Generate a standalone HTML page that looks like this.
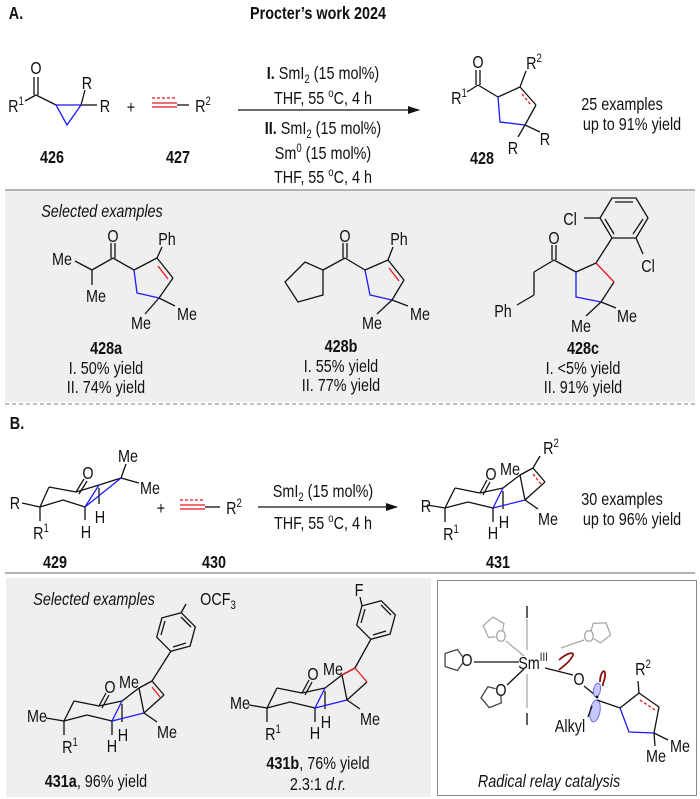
<!DOCTYPE html>
<html><head><meta charset="utf-8"><style>
html,body{margin:0;padding:0;background:#fff}
svg{display:block}
text{font-family:"Liberation Sans",Arial,sans-serif;font-size:18px;fill:#111;text-anchor:middle;transform-box:fill-box;transform-origin:50% 50%;transform:scaleX(.8)}
.b{font-weight:bold}
.i{font-style:italic}
.s{font-size:12px}
line,polyline,polygon,path{stroke-width:1.3;fill:none}
.k{stroke:#111}.bl{stroke:#1a1aff}.r{stroke:#e8141b}.g{stroke:#aaa}
.d{stroke-dasharray:3 2}
</style></head><body>
<svg width="700" height="799" viewBox="0 0 700 799" xmlns="http://www.w3.org/2000/svg">
<defs>
<marker id="ah" markerWidth="12" markerHeight="8" refX="11" refY="4" orient="auto" markerUnits="userSpaceOnUse"><path d="M0,0 L12,4 L0,8 z" style="fill:#111;stroke:none"/></marker>
</defs>
<rect x="5" y="191" width="690" height="211" fill="#efefef"/>
<line x1="5" y1="190" x2="695" y2="190" stroke="#888" stroke-width="2"/>
<line x1="5" y1="404" x2="695" y2="404" stroke="#999" stroke-width="1" stroke-dasharray="4 3"/>
<line x1="5" y1="573" x2="695" y2="573" stroke="#888" stroke-width="2"/>
<rect x="6" y="578" width="425" height="219" fill="#efefef"/>
<rect x="437.5" y="580.5" width="259" height="215" fill="#fff" stroke="#888" stroke-width="1"/>

<text x="16" y="19" class="b">A.</text>
<text x="318" y="19" class="b">Procter’s work 2024</text>
<text x="17" y="429" class="b">B.</text>

<!-- 426 -->
<g class="k">
<line x1="34" y1="95" x2="34" y2="77"/><line x1="38" y1="95" x2="38" y2="77"/>
<line x1="36" y1="95" x2="25" y2="101"/><line x1="36" y1="95" x2="56" y2="105"/>
<line x1="81" y1="105" x2="85" y2="90"/><line x1="81" y1="105" x2="97" y2="105"/>
</g>
<polygon points="56,105 81,105 67,125" class="bl"/>
<text x="36" y="74">O</text>
<text x="16" y="112">R<tspan class="s" dy="-7">1</tspan></text>
<text x="87" y="89">R</text>
<text x="105" y="112">R</text>
<text x="52" y="163" class="b">426</text>
<text x="131" y="113">+</text>
<line x1="152" y1="98" x2="177" y2="98" class="r d"/>
<line x1="152" y1="103" x2="177" y2="103" class="r"/>
<line x1="152" y1="107" x2="177" y2="107" class="r"/>
<line x1="177" y1="105" x2="189" y2="105" class="k"/>
<text x="203" y="112">R<tspan class="s" dy="-7">2</tspan></text>
<text x="178" y="163" class="b">427</text>
<line x1="238" y1="110" x2="419" y2="110" class="k" marker-end="url(#ah)"/>
<text x="323" y="79"><tspan class="b">I.</tspan> SmI<tspan class="s" dy="4">2</tspan><tspan dy="-4"> (15 mol%)</tspan></text>
<text x="323" y="104">THF, 55 <tspan class="s" dy="-7">o</tspan><tspan dy="7">C, 4 h</tspan></text>
<text x="323" y="134"><tspan class="b">II.</tspan> SmI<tspan class="s" dy="4">2</tspan><tspan dy="-4"> (15 mol%)</tspan></text>
<text x="323" y="159">Sm<tspan class="s" dy="-7">0</tspan><tspan dy="7"> (15 mol%)</tspan></text>
<text x="323" y="183">THF, 55 <tspan class="s" dy="-7">o</tspan><tspan dy="7">C, 4 h</tspan></text>
<!-- 428 -->
<g class="k">
<line x1="476" y1="85" x2="476" y2="70"/><line x1="480" y1="85" x2="480" y2="70"/>
<line x1="478" y1="85" x2="467" y2="92"/><line x1="478" y1="85" x2="498" y2="97"/>
<line x1="498" y1="97" x2="520" y2="87"/><line x1="520" y1="87" x2="536" y2="105"/>
<line x1="536" y1="105" x2="525" y2="125"/><line x1="520" y1="87" x2="526" y2="71"/>
<line x1="525" y1="125" x2="540" y2="132"/><line x1="525" y1="125" x2="518" y2="137"/>
</g>
<line x1="522" y1="94" x2="531" y2="105" class="r d"/>
<polyline points="525,125 500,122 498,97" class="bl"/>
<text x="478" y="68">O</text>
<text x="459" y="104">R<tspan class="s" dy="-7">1</tspan></text>
<text x="534" y="69">R<tspan class="s" dy="-7">2</tspan></text>
<text x="545" y="145">R</text>
<text x="513" y="154">R</text>
<text x="482" y="164" class="b">428</text>
<text x="622" y="110">25 examples</text>
<text x="632" y="130">up to 91% yield</text>

<text x="102" y="217" class="i">Selected examples</text>
<!-- 428a -->
<g class="k">
<line x1="111" y1="258" x2="111" y2="243"/><line x1="115" y1="258" x2="115" y2="243"/>
<line x1="113" y1="258" x2="92" y2="270"/><line x1="92" y1="270" x2="75" y2="261"/>
<line x1="92" y1="270" x2="92" y2="285"/><line x1="113" y1="258" x2="134" y2="270"/>
<line x1="134" y1="270" x2="157" y2="258"/><line x1="157" y1="258" x2="173" y2="278"/>
<line x1="173" y1="278" x2="159" y2="298"/><line x1="157" y1="258" x2="162" y2="247"/>
<line x1="159" y1="298" x2="145" y2="314"/><line x1="159" y1="298" x2="175" y2="306"/>
</g>
<line x1="158" y1="266" x2="168" y2="279" class="r"/>
<polyline points="159,298 137,293 134,270" class="bl"/>
<text x="113" y="242">O</text><text x="167" y="245">Ph</text>
<text x="62" y="265">Me</text><text x="96" y="302">Me</text>
<text x="141" y="329">Me</text><text x="187" y="320">Me</text>
<text x="106" y="354" class="b">428a</text>
<text x="106" y="374">I. 50% yield</text>
<text x="106" y="393">II. 74% yield</text>
<!-- 428b -->
<g class="k">
<line x1="343" y1="258" x2="343" y2="243"/><line x1="347" y1="258" x2="347" y2="243"/>
<line x1="345" y1="258" x2="323" y2="270"/>
<polygon points="323,270 323,295 298,302 285,282 305,262"/>
<line x1="345" y1="258" x2="365" y2="270"/><line x1="365" y1="270" x2="388" y2="260"/>
<line x1="388" y1="260" x2="404" y2="280"/><line x1="404" y1="280" x2="392" y2="300"/>
<line x1="388" y1="260" x2="393" y2="247"/>
<line x1="392" y1="300" x2="377" y2="314"/><line x1="392" y1="300" x2="408" y2="306"/>
</g>
<line x1="389" y1="268" x2="399" y2="281" class="r"/>
<polyline points="392,300 370,295 365,270" class="bl"/>
<text x="345" y="242">O</text><text x="399" y="245">Ph</text>
<text x="372" y="329">Me</text><text x="420" y="320">Me</text>
<text x="341" y="352" class="b">428b</text>
<text x="341" y="372">I. 55% yield</text>
<text x="341" y="391">II. 77% yield</text>
<!-- 428c -->
<g class="k">
<line x1="552" y1="260" x2="552" y2="245"/><line x1="556" y1="260" x2="556" y2="245"/>
<line x1="554" y1="260" x2="534" y2="272"/><line x1="534" y1="272" x2="534" y2="295"/>
<line x1="534" y1="295" x2="517" y2="305"/>
<line x1="554" y1="260" x2="576" y2="272"/><line x1="576" y1="272" x2="596" y2="263"/>
<line x1="614" y1="282" x2="601" y2="302"/>
<line x1="601" y1="302" x2="586" y2="316"/><line x1="601" y1="302" x2="616" y2="308"/>
<line x1="596" y1="263" x2="612" y2="238"/>
<polygon points="612,198 636,198 648,218 636,238 612,238 600,218"/>
<line x1="615" y1="202" x2="633" y2="202"/><line x1="643" y1="219" x2="633" y2="234"/><line x1="614" y1="234" x2="605" y2="219"/>
<line x1="600" y1="218" x2="584" y2="218"/><line x1="636" y1="238" x2="643" y2="254"/>
</g>
<line x1="596" y1="263" x2="614" y2="282" class="r"/>
<polyline points="601,302 576,297 576,272" class="bl"/>
<text x="554" y="244">O</text><text x="503" y="317">Ph</text>
<text x="570" y="225">Cl</text><text x="648" y="272">Cl</text>
<text x="581" y="332">Me</text><text x="627" y="322">Me</text>
<text x="583" y="354" class="b">428c</text>
<text x="583" y="374">I. &lt;5% yield</text>
<text x="583" y="393">II. 91% yield</text>

<!-- 429 -->
<g class="k">
<line x1="22" y1="503" x2="40" y2="507"/><line x1="40" y1="507" x2="40" y2="521"/>
<line x1="40" y1="507" x2="49" y2="487"/><line x1="49" y1="487" x2="76" y2="492"/>
<line x1="76" y1="492" x2="84" y2="479"/><line x1="79" y1="494" x2="87" y2="481"/>
<line x1="76" y1="492" x2="99" y2="485"/>
<line x1="40" y1="507" x2="63" y2="500"/><line x1="63" y1="500" x2="85" y2="507"/>
<line x1="85" y1="507" x2="85" y2="520"/><line x1="99" y1="488" x2="99" y2="504"/>
<line x1="121" y1="478" x2="126" y2="464"/><line x1="121" y1="478" x2="139" y2="483"/>
<line x1="99" y1="485" x2="121" y2="478"/>
</g>
<polyline points="99,485 85,507 121,478" class="bl"/>
<text x="128" y="462">Me</text><text x="88" y="479">O</text><text x="150" y="494">Me</text>
<text x="15" y="509">R</text><text x="41" y="539">R<tspan class="s" dy="-7">1</tspan></text>
<text x="100" y="523">H</text><text x="86" y="538">H</text>
<text x="55" y="568" class="b">429</text>
<text x="161" y="514">+</text>
<line x1="180" y1="500" x2="205" y2="500" class="r d"/>
<line x1="180" y1="505" x2="205" y2="505" class="r"/>
<line x1="180" y1="509" x2="205" y2="509" class="r"/>
<line x1="205" y1="507" x2="220" y2="507" class="k"/>
<text x="234" y="514">R<tspan class="s" dy="-7">2</tspan></text>
<text x="214" y="568" class="b">430</text>
<line x1="258" y1="507" x2="397" y2="507" class="k" marker-end="url(#ah)"/>
<text x="323" y="497">SmI<tspan class="s" dy="4">2</tspan><tspan dy="-4"> (15 mol%)</tspan></text>
<text x="323" y="529">THF, 55 <tspan class="s" dy="-7">o</tspan><tspan dy="7">C, 4 h</tspan></text>

<defs>
<g id="sk">
<g class="k">
<line x1="427" y1="505" x2="445" y2="508"/><line x1="445" y1="508" x2="445" y2="522"/>
<line x1="445" y1="508" x2="455" y2="488"/><line x1="455" y1="488" x2="480" y2="493"/>
<line x1="480" y1="493" x2="487" y2="480"/><line x1="483" y1="495" x2="490" y2="482"/>
<line x1="480" y1="493" x2="503" y2="488"/>
<line x1="445" y1="508" x2="468" y2="502"/><line x1="468" y1="502" x2="493" y2="508"/>
<line x1="493" y1="508" x2="493" y2="522"/><line x1="503" y1="491" x2="503" y2="509"/>
<line x1="503" y1="488" x2="520" y2="475"/><line x1="520" y1="475" x2="525" y2="500"/>
<line x1="525" y1="500" x2="545" y2="482"/><line x1="525" y1="500" x2="538" y2="509"/>
<line x1="520" y1="475" x2="533" y2="468"/>
</g>
<polyline points="503,488 493,508 525,500" class="bl"/>
</g>
</defs>
<use href="#sk"/>
<g class="k"><line x1="533" y1="468" x2="545" y2="482"/><line x1="533" y1="468" x2="540" y2="456"/></g>
<line x1="533" y1="474" x2="541" y2="484" class="r d"/>
<text x="551" y="454">R<tspan class="s" dy="-7">2</tspan></text>
<text x="510" y="475">Me</text><text x="491" y="480">O</text>
<text x="426" y="512">R</text><text x="451" y="540">R<tspan class="s" dy="-7">1</tspan></text>
<text x="548" y="525">Me</text><text x="504" y="528">H</text><text x="493" y="539">H</text>
<text x="498" y="568" class="b">431</text>
<text x="622" y="505">30 examples</text>
<text x="632" y="525">up to 96% yield</text>

<text x="94" y="605" class="i">Selected examples</text>
<!-- 431a -->
<g transform="translate(-381,213)"><use href="#sk"/>
<g class="k"><line x1="533" y1="468" x2="545" y2="482"/></g>
<line x1="533" y1="474" x2="541" y2="484" class="r"/></g>
<g class="k">
<line x1="152" y1="681" x2="171" y2="651"/>
<polygon points="181.2,612.7 195.3,626.8 190.1,646.1 170.8,651.3 156.7,637.2 161.9,617.9"/>
<line x1="181" y1="617" x2="191" y2="627"/><line x1="186" y1="643" x2="173" y2="647"/><line x1="161" y1="635" x2="165" y2="621"/>
<line x1="181" y1="613" x2="186" y2="604"/>
</g>
<text x="218" y="605">OCF<tspan class="s" dy="4">3</tspan></text>
<text x="129" y="688">Me</text><text x="110" y="693">O</text>
<text x="37" y="722">Me</text><text x="70" y="753">R<tspan class="s" dy="-7">1</tspan></text>
<text x="167" y="738">Me</text><text x="123" y="741">H</text><text x="112" y="752">H</text>
<text x="96" y="787"><tspan class="b">431a</tspan>, 96% yield</text>
<!-- 431b -->
<g transform="translate(-178,200)"><use href="#sk"/></g>
<line x1="355" y1="668" x2="342" y2="675" class="r"/>
<line x1="355" y1="668" x2="367" y2="682" class="r"/>
<g class="k">
<line x1="355" y1="668" x2="371" y2="639"/>
<polygon points="381.2,600.7 395.3,614.8 390.1,634.1 370.8,639.3 356.7,625.2 361.9,605.9"/>
<line x1="381" y1="605" x2="391" y2="615"/><line x1="386" y1="631" x2="373" y2="635"/><line x1="361" y1="623" x2="365" y2="609"/>
<line x1="362" y1="606" x2="360" y2="597"/>
</g>
<text x="359" y="596">F</text>
<text x="333" y="675">Me</text><text x="313" y="680">O</text>
<text x="240" y="709">Me</text><text x="273" y="740">R<tspan class="s" dy="-7">1</tspan></text>
<text x="370" y="725">Me</text><text x="326" y="728">H</text><text x="315" y="739">H</text>
<text x="318" y="769"><tspan class="b">431b</tspan>, 76% yield</text>
<text x="318" y="790">2.3:1 <tspan class="i">d.r.</tspan></text>

<!-- Radical relay -->
<g>
<line x1="527" y1="619" x2="527" y2="650" class="g"/>
<line x1="527" y1="674" x2="527" y2="708" class="g"/>
<polygon points="501.4,636.2 488.5,637.5 483.2,625.7 492.9,617.1 504,623.5" class="g"/>
<line x1="506" y1="641" x2="524" y2="656" class="g"/>
<polygon points="465,660 457.4,670.5 445.1,666.5 445.1,653.5 457.4,649.5" style="stroke:#444"/>
<line x1="474" y1="662" x2="519" y2="662" class="k"/>
<polygon points="500.4,689.9 501.3,702.8 489.3,707.7 481,697.8 487.9,686.8" style="stroke:#444"/>
<line x1="507" y1="685" x2="524" y2="669" class="k"/>
<polygon points="589.7,635.8 593.2,623.3 606.1,622.9 610.6,635 600.4,643" class="g"/>
<line x1="584" y1="640" x2="561" y2="648" class="g"/>
<line x1="545" y1="668" x2="573" y2="675" class="k"/>
<line x1="584" y1="686" x2="595" y2="695" class="k"/>
<ellipse cx="597" cy="690" rx="3.5" ry="7" fill="#c8c8ff" stroke="#7070e0" stroke-width="1" transform="rotate(10 597 690)"/>
<ellipse cx="595" cy="711" rx="5" ry="11" fill="#c8c8ff" stroke="#7070e0" stroke-width="1" transform="rotate(10 595 711)"/>
<circle cx="597" cy="697" r="1.4" fill="#111"/>
<line x1="597" y1="700" x2="620" y2="708" class="k"/>
<line x1="592" y1="706" x2="588" y2="717" class="k"/>
<g class="k">
<line x1="620" y1="708" x2="639" y2="693"/><line x1="639" y1="693" x2="659" y2="707"/>
<line x1="659" y1="707" x2="654" y2="733"/><line x1="639" y1="693" x2="638" y2="681"/>
<line x1="654" y1="733" x2="668" y2="740"/><line x1="654" y1="733" x2="655" y2="746"/>
</g>
<line x1="640" y1="700" x2="655" y2="710" class="r d"/>
<polyline points="620,708 629,732 654,733" class="bl"/>
<path d="M559,660 C568,652 576,651 572,657 C569,663 562,667 559,670" style="stroke:#8b1010;stroke-width:1.8"/>
<path d="M600,682 C600,674 604,668 605,673 C606,679 602,683 603,686" style="stroke:#8b1010;stroke-width:1.8"/>
<circle cx="501" cy="636" r="5.5" fill="#fff"/>
<circle cx="467" cy="660" r="5.5" fill="#fff"/>
<circle cx="501" cy="690" r="5.5" fill="#fff"/>
<circle cx="589" cy="636" r="5.5" fill="#fff"/>
<text x="527" y="618">I</text><text x="527" y="725">I</text>
<text x="533" y="669">Sm<tspan class="s" dy="-8">III</tspan></text>
<text x="501" y="642" style="fill:#aaa">O</text>
<text x="467" y="666">O</text>
<text x="501" y="696">O</text>
<text x="589" y="642" style="fill:#aaa">O</text>
<text x="579" y="685">O</text>
<text x="570" y="732">Alkyl</text>
<text x="643" y="675">R<tspan class="s" dy="-7">2</tspan></text>
<text x="680" y="752">Me</text><text x="656" y="762">Me</text>
<text x="549" y="787" class="i">Radical relay catalysis</text>
</g>
</svg>
</body></html>
